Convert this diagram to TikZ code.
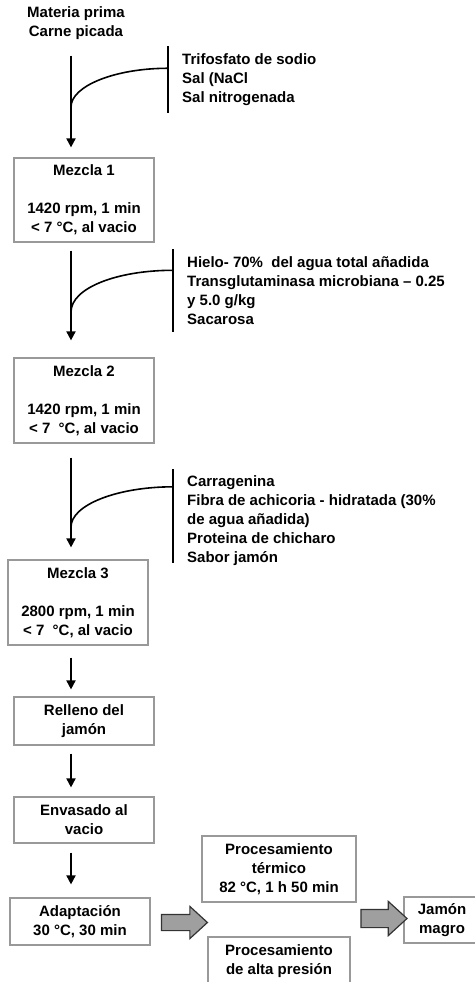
\documentclass[tikz,border=0pt]{standalone}
\usepackage{fontspec}
\setmainfont{Liberation Sans}
\usetikzlibrary{arrows.meta, positioning, shapes.arrows}

\begin{document}
\begin{tikzpicture}[
    x=1pt, y=1pt,
    every node/.style={font=\fontsize{15}{19}\selectfont\bfseries},
    stage/.style={rectangle, draw=gray!80, line width=1.2pt, minimum width=140pt, align=center, inner sep=3pt},
    ingr/.style={anchor=west, align=left, inner xsep=14pt, inner ysep=7pt},
    arrow/.style={line width=1.8pt, -{Triangle[width=9pt,length=9pt]}},
    bar/.style={line width=2pt},
    branch/.style={line width=1.6pt},
    bigarrow/.style={single arrow, draw=gray!40!black, fill=gray!75, line width=1.2pt, inner sep=7.5pt,
        single arrow head extend=8pt, single arrow tip angle=85, minimum height=46pt}
]
    \useasboundingbox (0,0) rectangle (474,-982);

    % Main line
    \node[align=center] (raw) at (76,-23.5) {Materia prima\\Carne picada};
    \node[stage, minimum height=84pt] (m1) at (84,-200) {Mezcla 1\\[19pt]1420 rpm, 1 min\\< 7 °C, al vacio};
    \node[stage, minimum height=85pt] (m2) at (84,-400.5) {Mezcla 2\\[19pt]1420 rpm, 1 min\\<~7~~°C, al vacio};
    \node[stage, minimum height=85pt] (m3) at (78,-602.5) {Mezcla 3\\[19pt]2800 rpm, 1 min\\<~7~~°C, al vacio};
    \node[stage, minimum height=48pt] (fill) at (84,-721) {Relleno del\\jamón};
    \node[stage, minimum height=46pt] (pack) at (84,-820) {Envasado al\\vacio};
    \node[stage, minimum height=47pt] (adapt) at (80,-921.5) {Adaptación\\30 °C, 30 min};

    % Processing
    \node[stage, minimum width=154pt, minimum height=66pt] (heat) at (279,-869) {Procesamiento\\térmico\\82 °C, 1 h 50 min};
    \node[stage, minimum width=142pt, minimum height=48pt] (hpp) at (279,-961) {Procesamiento\\de alta presión};
    \node[stage, minimum width=76pt, minimum height=46pt] (ham) at (442,-920) {Jamón\\magro};

    % Ingredients
    \node[ingr] (ing1) at (168,-79.5) {Trifosfato de sodio\\Sal (NaCl\\Sal nitrogenada};
    \node[ingr] (ing2) at (173,-290.5) {Hielo- 70\%~ del agua total añadida\\Transglutaminasa microbiana -- 0.25\\y 5.0 g/kg\\Sacarosa};
    \node[ingr] (ing3) at (173,-521) {Carragenina\\Fibra de achicoria - hidratada (30\%\\de agua añadida)\\Proteina de chicharo\\Sabor jamón};

    % Arrows
    \draw[arrow] ([xshift=-5pt,yshift=-12pt]raw.south) -- ([xshift=-13pt,yshift=10pt]m1.north);
    \draw[arrow] ([xshift=-13pt,yshift=-8pt]m1.south) -- ([xshift=-13pt,yshift=17pt]m2.north);
    \draw[arrow] ([xshift=-13pt,yshift=-14pt]m2.south) -- ([xshift=-7pt,yshift=12pt]m3.north);
    \draw[arrow] ([xshift=-7pt,yshift=-12pt]m3.south) -- ([xshift=-13pt,yshift=7pt]fill.north);
    \draw[arrow] ([xshift=-13pt,yshift=-8pt]fill.south) -- ([xshift=-13pt,yshift=9pt]pack.north);
    \draw[arrow] ([xshift=-13pt,yshift=-9pt]pack.south) -- ([xshift=-9pt,yshift=13pt]adapt.north);

    % Additions
    \coordinate (j1) at (71,-107);
    \coordinate (j2) at (71,-312);
    \coordinate (j3) at (71,-527);
    \draw[bar] (ing1.north west) -- (ing1.south west);
    \draw[bar] (ing2.north west) -- (ing2.south west);
    \draw[bar] (ing3.north west) -- ([yshift=10pt]ing3.south west);
    \draw[branch] ([yshift=-22pt]ing1.north west) .. controls +(-53,0) and +(0,21) .. (j1);
    \draw[branch] ([yshift=-21pt]ing2.north west) .. controls +(-56,0) and +(0,24) .. (j2);
    \draw[branch] ([yshift=-18pt]ing3.north west) .. controls +(-56,0) and +(0,22) .. (j3);

    % Block arrows
    \node[bigarrow] (go1) at (180,-922.5) {};
    \node[bigarrow, inner sep=8.5pt] (go2) at (379,-918.5) {};
\end{tikzpicture}
\end{document}
